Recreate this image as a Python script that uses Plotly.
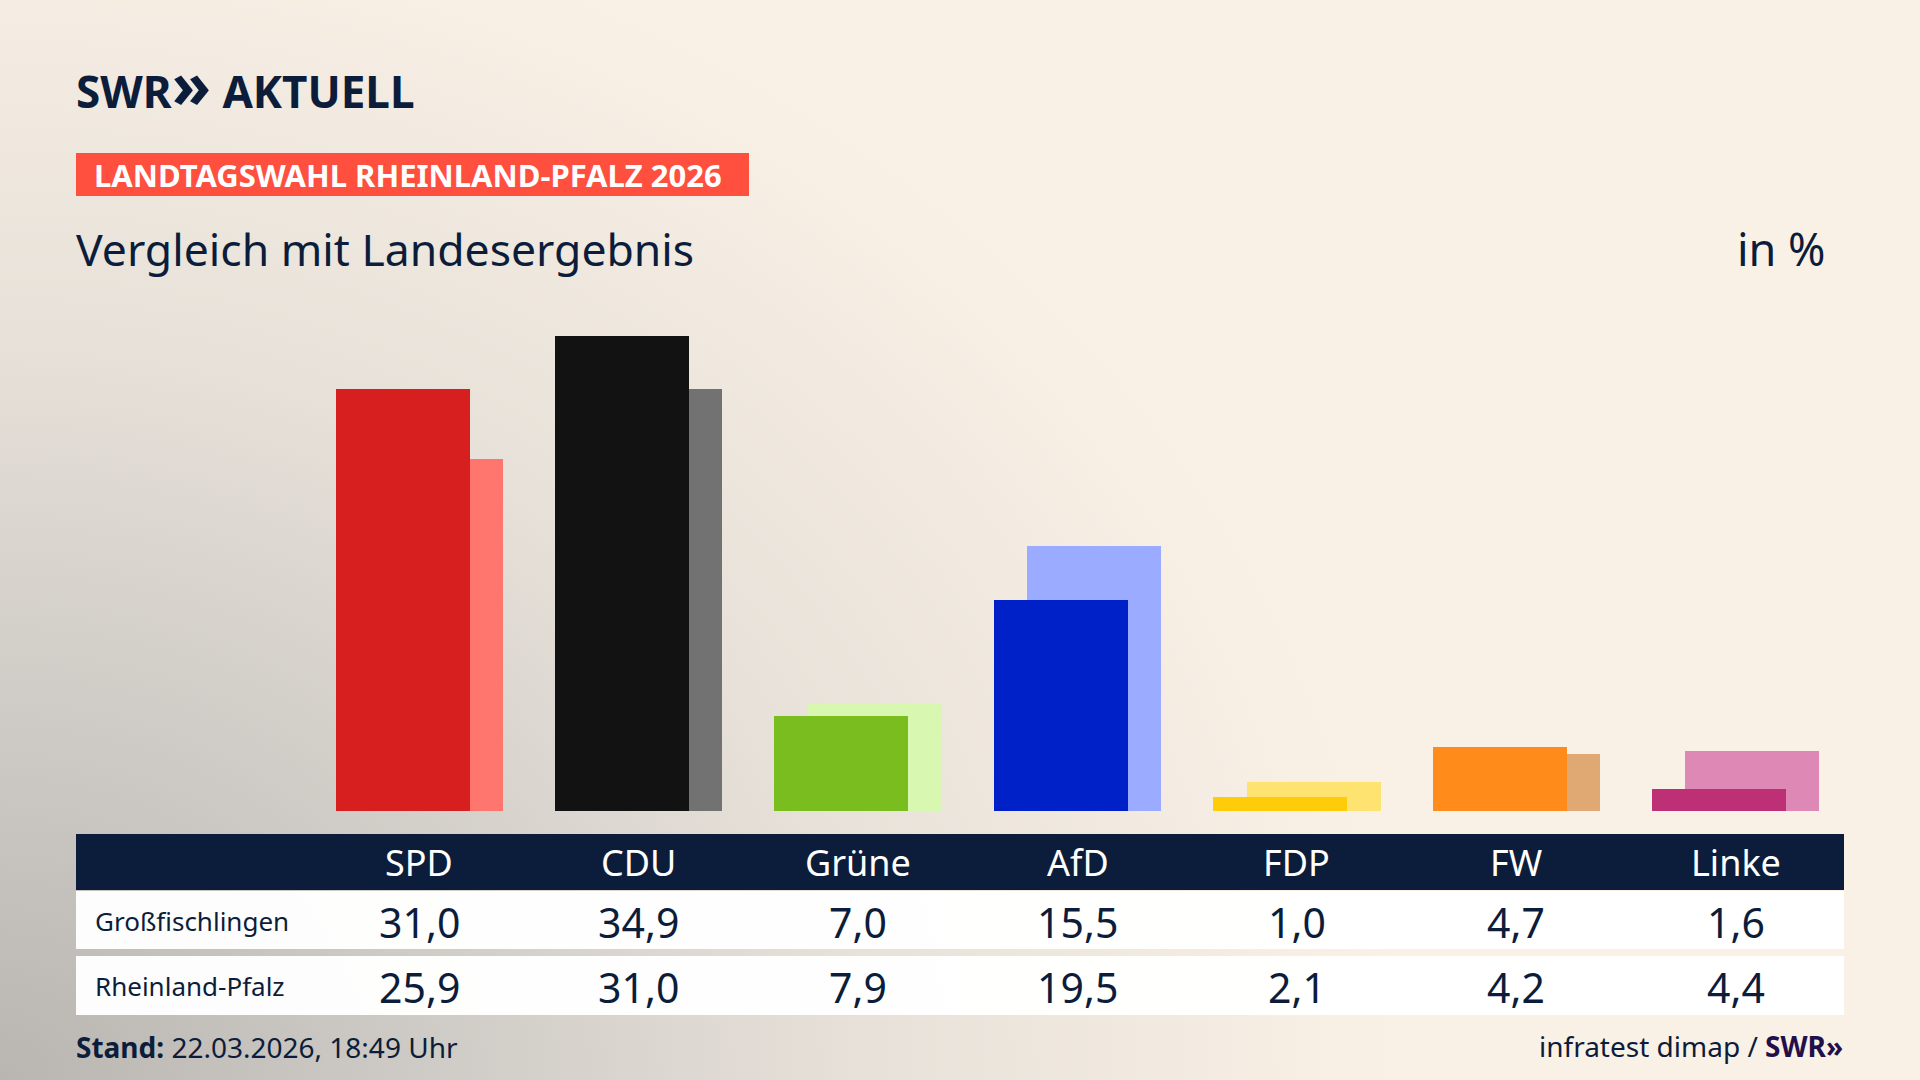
import base64
import plotly.graph_objects as go

# ---------------- data ----------------
parties = ["SPD", "CDU", "Grüne", "AfD", "FDP", "FW", "Linke"]
local_values = [31.0, 34.9, 7.0, 15.5, 1.0, 4.7, 1.6]      # Großfischlingen
state_values = [25.9, 31.0, 7.9, 19.5, 2.1, 4.2, 4.4]      # Rheinland-Pfalz
row_labels = ["Großfischlingen", "Rheinland-Pfalz"]
local_colors = ["#D71F1F", "#121212", "#7ABD1E", "#0020C8", "#FFCC09", "#FF8C1A", "#BE3075"]
state_colors = ["#FF766E", "#737272", "#D8F7B0", "#9BABFF", "#FFE370", "#E0A873", "#DE89B5"]

title_label = "LANDTAGSWAHL RHEINLAND-PFALZ 2026"
subtitle = "Vergleich mit Landesergebnis"
unit_text = "in %"
stand_text = "<b>Stand:</b> 22.03.2026, 18:49 Uhr"
source_text = "infratest dimap / <b><span style='color:#22104A'>SWR»</span></b>"

# ---------------- geometry helpers ----------------
W, H = 1920, 1080
NAVY = "#0C1D3B"
FONT = "Noto Sans"
CAT_PX0, CAT_STEP = 419.3, 219.4      # centre of first group, spacing (px)
BASE_PX, PX_PER_PCT = 811.0, 13.6


def px2x(p):
    return (p - CAT_PX0) / CAT_STEP


def X(p):
    return p / W


def Y(p):
    return 1 - p / H


def fmt(v):
    return f"{v:.1f}".replace(".", ",")


bar_w = 134 / CAT_STEP
main_off = -83.75 / CAT_STEP
state_off = (-83.75 + 33.5) / CAT_STEP

xs = list(range(len(parties)))

fig = go.Figure()
fig.add_trace(go.Bar(x=xs, y=state_values, marker=dict(color=state_colors, line=dict(width=0)),
                     width=bar_w, offset=state_off, name="Rheinland-Pfalz", hoverinfo="skip"))
fig.add_trace(go.Bar(x=xs, y=local_values, marker=dict(color=local_colors, line=dict(width=0)),
                     width=bar_w, offset=main_off, name="Großfischlingen", hoverinfo="skip"))

# ---------------- background gradient ----------------
svg = f"""<svg xmlns='http://www.w3.org/2000/svg' width='{W}' height='{H}' viewBox='0 0 {W} {H}'>
<defs>
<radialGradient id='g' gradientUnits='userSpaceOnUse' cx='0' cy='{H}' r='1000'
 gradientTransform='translate(0 {H}) scale(1.4 1.2) translate(0 -{H})'>
<stop offset='0' stop-color='#B9B6B2'/>
<stop offset='0.3' stop-color='#CECAC5'/>
<stop offset='0.62' stop-color='#E7E1D9'/>
<stop offset='1' stop-color='#FAF1E6'/>
</radialGradient>
</defs>
<rect width='{W}' height='{H}' fill='#FAF1E6'/>
<rect width='{W}' height='{H}' fill='url(#g)'/>
</svg>"""
bg_uri = "data:image/svg+xml;base64," + base64.b64encode(svg.encode()).decode()

shapes = []
annotations = []

# red label box
shapes.append(dict(type="rect", xref="paper", yref="paper", x0=X(76), x1=X(749), y0=Y(196), y1=Y(153),
                   fillcolor="#FF4F3F", line=dict(width=0), layer="below"))
# table header band
shapes.append(dict(type="rect", xref="paper", yref="paper", x0=X(76), x1=X(1844), y0=Y(890), y1=Y(834),
                   fillcolor=NAVY, line=dict(width=0)))
# table rows
row_bands = [(891, 949), (956, 1015)]
for (t, b) in row_bands:
    shapes.append(dict(type="rect", xref="paper", yref="paper", x0=X(76), x1=X(1844), y0=Y(b), y1=Y(t),
                       fillcolor="rgba(255,255,255,0.97)", line=dict(width=0)))

# logo
annotations.append(dict(xref="paper", yref="paper", x=X(74), y=Y(84), xanchor="left", yanchor="middle",
                        text="<b>SWR<span style='font-size:64px'>»</span> AKTUELL</b>",
                        font=dict(family=FONT, size=44, color=NAVY), showarrow=False))
# label
annotations.append(dict(xref="paper", yref="paper", x=X(92), y=Y(175), xanchor="left", yanchor="middle",
                        text=f"<b>{title_label}</b>", font=dict(family=FONT, size=31, color="white"),
                        showarrow=False))
# subtitle & unit
annotations.append(dict(xref="paper", yref="paper", x=X(74), y=Y(248), xanchor="left", yanchor="middle",
                        text=subtitle, font=dict(family=FONT, size=44.5, color=NAVY), showarrow=False))
annotations.append(dict(xref="paper", yref="paper", x=X(1828), y=Y(248), xanchor="right", yanchor="middle",
                        text=unit_text, font=dict(family=FONT, size=45, color=NAVY), showarrow=False))

# table header labels
for i, p in enumerate(parties):
    annotations.append(dict(xref="x", yref="paper", x=i, y=Y(862), xanchor="center", yanchor="middle",
                            text=p, font=dict(family=FONT, size=36, color="white"), showarrow=False))
# table rows
row_y = [921, 986]
for r, (lab, vals) in enumerate(zip(row_labels, [local_values, state_values])):
    annotations.append(dict(xref="paper", yref="paper", x=X(93), y=Y(row_y[r]), xanchor="left",
                            yanchor="middle", text=lab, font=dict(family=FONT, size=26, color=NAVY),
                            showarrow=False))
    for i, v in enumerate(vals):
        annotations.append(dict(xref="x", yref="paper", x=i, y=Y(row_y[r] + 1), xanchor="center",
                                yanchor="middle", text=fmt(v), font=dict(family=FONT, size=41, color=NAVY),
                                showarrow=False))

# footer
annotations.append(dict(xref="paper", yref="paper", x=X(74), y=Y(1047), xanchor="left", yanchor="middle",
                        text=stand_text, font=dict(family=FONT, size=28, color=NAVY), showarrow=False))
annotations.append(dict(xref="paper", yref="paper", x=X(1845), y=Y(1046), xanchor="right", yanchor="middle",
                        text=source_text, font=dict(family=FONT, size=28, color=NAVY), showarrow=False))

fig.update_layout(
    width=W, height=H, margin=dict(l=0, r=0, t=0, b=0, pad=0),
    paper_bgcolor="#FAF1E6", plot_bgcolor="rgba(0,0,0,0)",
    barmode="overlay", bargap=0, showlegend=False,
    xaxis=dict(range=[px2x(0), px2x(W)], visible=False, fixedrange=True),
    yaxis=dict(range=[-(H - BASE_PX) / PX_PER_PCT, BASE_PX / PX_PER_PCT], visible=False, fixedrange=True),
    images=[dict(source=bg_uri, xref="paper", yref="paper", x=0, y=1, sizex=1, sizey=1,
                 xanchor="left", yanchor="top", sizing="stretch", layer="below")],
    shapes=shapes, annotations=annotations,
    font=dict(family=FONT),
)

fig.write_html("out.html", config={"displayModeBar": False},
               post_script="document.body.style.margin='0';document.body.style.overflow='hidden';")
